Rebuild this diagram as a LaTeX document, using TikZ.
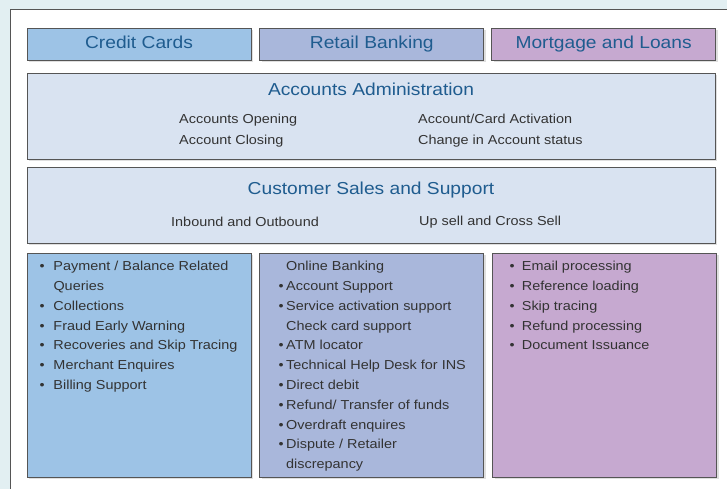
\documentclass[tikz,border=0pt]{standalone}
\usepackage{fontspec}
\setmainfont{Liberation Sans}[FakeStretch=1.11]
\usetikzlibrary{positioning,shadows}

\definecolor{bgcol}{HTML}{E2EFF2}
\definecolor{framecol}{HTML}{555555}
\definecolor{cccol}{HTML}{9DC3E6}
\definecolor{rbcol}{HTML}{A9B7DB}
\definecolor{mlcol}{HTML}{C6A9D0}
\definecolor{pancol}{HTML}{D9E3F1}
\definecolor{headcol}{HTML}{1F5C8F}
\definecolor{txtcol}{HTML}{333333}

% bullet with a gap of its own width
\newcommand\bul[1]{\makebox[#1][l]{\textbullet}}

\begin{document}
\begin{tikzpicture}[x=1pt,y=1pt, node distance=8pt,
    box/.style = {draw=framecol, line width=0.8pt, inner sep=0pt,
                  drop shadow={shadow xshift=2pt, shadow yshift=-2pt, opacity=0.25}},
    head/.style = {box, minimum width=224pt, minimum height=32pt,
                   text height=13pt, text depth=3pt,
                   font=\fontsize{17.3}{20}\selectfont, text=headcol},
    panel/.style = {box, fill=pancol, minimum width=688pt},
    title/.style = {font=\fontsize{17.3}{20}\selectfont, text=headcol, inner sep=0pt},
    item/.style = {font=\fontsize{13}{21}\selectfont, text=txtcol, inner sep=0pt, align=left},
    list/.style = {font=\fontsize{13}{19.8}\selectfont, text=txtcol, inner sep=0pt,
                   align=left, anchor=north west},
    col/.style = {box, minimum width=224pt, minimum height=224pt}]

    \useasboundingbox (0,0) rectangle (727,489);
    \clip (0,0) rectangle (727,489);
    \fill[bgcol] (0,0) rectangle (727,489);
    \draw[framecol, fill=white] (10,480) rectangle (740,-10);

    % Lignes d'affaires
    \node[head, fill=cccol] (cc) at (139,445) {Credit Cards};
    \node[head, fill=rbcol] (rb) [right=of cc] {Retail Banking};
    \node[head, fill=mlcol] (ml) [right=7pt of rb] {Mortgage and Loans};

    % Administration des comptes
    \node[panel, minimum height=86pt] (adm) at (371,373) {};
    \node[title] (admt) at (371,400) {Accounts Administration};
    \node[item, anchor=west] (adml) at (179,358.5) {Accounts Opening\\Account Closing};
    \node[item, anchor=west] (admr) at (418,358.5) {Account/Card Activation\\Change in Account status};

    % Ventes et support
    \node[panel, minimum height=76pt] (css) at (371,284) {};
    \node[title] (csst) at (371,299) {Customer Sales and Support};
    \node[item, anchor=west] (cssl) at (171,267) {Inbound and Outbound};
    \node[item, anchor=west] (cssr) at (419,267) {Up sell and Cross Sell};

    % Colonnes
    \node[col, fill=cccol] (ccc) at (139,124) {};
    \node[col, fill=rbcol] (rbc) [right=of ccc] {};
    \node[col, fill=mlcol] (mlc) [right=of rbc] {};

    \node[list] (ccl) at (39.4,228) {\bul{13.9pt}Payment / Balance Related\\
        \hspace*{13.9pt}Queries\\
        \bul{13.9pt}Collections\\
        \bul{13.9pt}Fraud Early Warning\\
        \bul{13.9pt}Recoveries and Skip Tracing\\
        \bul{13.9pt}Merchant Enquires\\
        \bul{13.9pt}Billing Support};

    \node[list] (rbl) at (278.4,228) {\hspace*{7.6pt}Online Banking\\
        \bul{7.6pt}Account Support\\
        \bul{7.6pt}Service activation support\\
        \hspace*{7.6pt}Check card support\\
        \bul{7.6pt}ATM locator\\
        \bul{7.6pt}Technical Help Desk for INS\\
        \bul{7.6pt}Direct debit\\
        \bul{7.6pt}Refund/ Transfer of funds\\
        \bul{7.6pt}Overdraft enquires\\
        \bul{7.6pt}Dispute / Retailer\\
        \hspace*{7.6pt}discrepancy};

    \node[list] (mll) at (509.4,228) {\bul{12.3pt}Email processing\\
        \bul{12.3pt}Reference loading\\
        \bul{12.3pt}Skip tracing\\
        \bul{12.3pt}Refund processing\\
        \bul{12.3pt}Document Issuance};
\end{tikzpicture}
\end{document}
